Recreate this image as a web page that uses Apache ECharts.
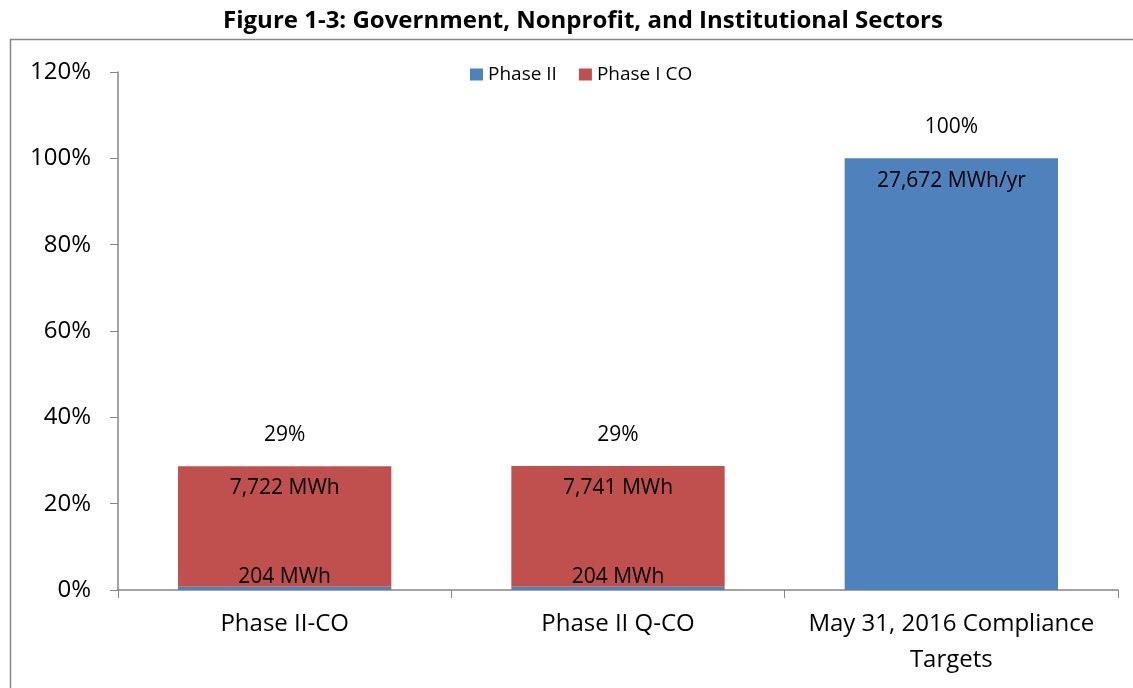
<!DOCTYPE html>
<html><head><meta charset="utf-8">
<script src="https://cdn.jsdelivr.net/npm/echarts@6/dist/echarts.min.js"></script>
<style>html,body{margin:0;padding:0;background:#fff}#c{width:1133px;height:688px}</style>
</head><body><div id="c"></div>
<script>
const categories = ['Phase II-CO', 'Phase II Q-CO', 'May 31, 2016 Compliance Targets'];
const phaseIIMWh = [204, 204, 27672];
const phaseICOMWh = [7722, 7741, 0];
const targetMWh = 27672;
const yTicks = [0, 20, 40, 60, 80, 100, 120];

const FONT = 'Open Sans';
const pct = v => v / targetMWh * 100;
const fmt = n => n.toLocaleString('en-US');
const phaseIIPct = phaseIIMWh.map(pct);
const phaseICOPct = phaseICOMWh.map(pct);
const totals = phaseIIMWh.map((v, i) => v + phaseICOMWh[i]);

const chart = echarts.init(document.getElementById('c'));
chart.setOption({
  animation: false,
  textStyle: { fontFamily: FONT },
  title: {
    text: 'Figure 1-3: Government, Nonprofit, and Institutional Sectors',
    left: 578, textAlign: 'center', top: 4,
    textStyle: { fontFamily: FONT, fontWeight: 'bold', fontSize: 24, color: '#000' }
  },
  graphic: [{
    type: 'rect', left: 8, top: 37, silent: true,
    shape: { width: 1135, height: 700 },
    style: { fill: 'none', stroke: '#868686', lineWidth: 1.5 }
  }],
  legend: {
    data: ['Phase II', 'Phase I CO'],
    left: 465, top: 60,
    itemWidth: 13, itemHeight: 12, itemGap: 22, icon: 'rect',
    textStyle: { fontFamily: FONT, fontSize: 19, color: '#000' }
  },
  grid: { left: 118, right: 15, top: 72, bottom: 98, containLabel: false },
  xAxis: {
    type: 'category', data: categories,
    axisLine: { lineStyle: { color: '#868686', width: 1.5 } },
    axisTick: { show: true, length: 8, alignWithLabel: false, lineStyle: { color: '#868686' } },
    axisLabel: {
      interval: 0, hideOverlap: false,
      fontFamily: FONT, fontSize: 24, color: '#000', margin: 16, lineHeight: 36,
      formatter: v => v.replace('Compliance ', 'Compliance\n')
    }
  },
  yAxis: {
    type: 'value', min: 0, max: 120, interval: 20,
    axisLine: { show: true, lineStyle: { color: '#868686', width: 1.5 } },
    axisTick: { show: true, length: 8, lineStyle: { color: '#868686' } },
    splitLine: { show: false },
    axisLabel: { fontFamily: FONT, fontSize: 24, color: '#000', margin: 27,
      formatter: v => yTicks.includes(v) ? v + '%' : '' }
  },
  series: [
    {
      name: 'Phase II', type: 'bar', stack: 's', barCategoryGap: '36%',
      itemStyle: { color: '#4F81BD' },
      data: phaseIIPct.map((v, i) => ({
        value: v,
        label: {
          show: true,
          position: i < 2 ? 'top' : 'insideTop',
          distance: i < 2 ? -1 : 12,
          fontFamily: FONT, fontSize: 21, color: '#000',
          formatter: () => fmt(phaseIIMWh[i]) + (i < 2 ? ' MWh' : ' MWh/yr')
        }
      }))
    },
    {
      name: 'Phase I CO', type: 'bar', stack: 's',
      itemStyle: { color: '#C0504D' },
      data: phaseICOPct.map((v, i) => ({
        value: v,
        label: {
          show: i < 2, position: 'insideTop', distance: 11,
          fontFamily: FONT, fontSize: 21, color: '#000',
          formatter: () => fmt(phaseICOMWh[i]) + ' MWh'
        }
      }))
    },
    {
      name: 'Total', type: 'bar', stack: 's',
      itemStyle: { color: 'transparent' },
      data: totals.map((t, i) => ({
        value: 0,
        label: {
          show: true, position: 'top', distance: 21,
          fontFamily: FONT, fontSize: 21, color: '#000',
          formatter: () => Math.round(pct(t)) + '%'
        }
      }))
    }
  ]
});
</script></body></html>
